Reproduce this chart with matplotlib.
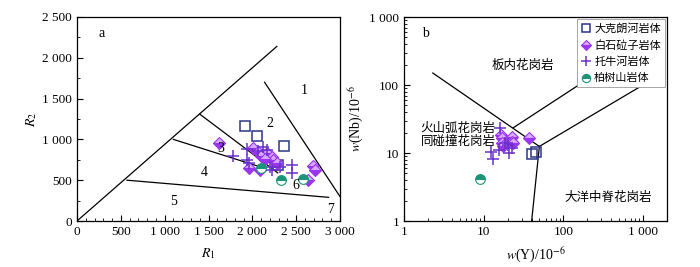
import matplotlib.pyplot as plt
import numpy as np
from matplotlib.ticker import FixedLocator, MultipleLocator, LogLocator, NullFormatter

plt.rcParams["font.family"] = ["Liberation Serif", "Noto Sans CJK SC"]
plt.rcParams["mathtext.fontset"] = "stix"

# ---- panel a: R1-R2 data ----
sq_r1 = [1920, 2053, 2365, 2296]
sq_r2 = [1168, 1042, 919, 686]
di_r1 = [1620, 1962, 2087, 2011, 2068, 2164, 2221, 2240, 2278, 2695, 2715, 2638, 2100, 2150]
di_r2 = [960, 653, 625, 891, 850, 830, 788, 747, 707, 678, 625, 502, 800, 760]
cr_r1 = [1783, 1936, 1943, 1966, 2125, 2163, 2201, 2221, 2449, 2449, 2315, 2060]
cr_r2 = [800, 879, 747, 715, 911, 870, 665, 625, 686, 592, 665, 860]
hc_r1 = [2095, 2323, 2574]
hc_r2 = [646, 502, 515]

# field boundaries (R1, R2)
bounds_a = [
    ([0, 2280], [0, 2140]),
    ([2140, 3000], [1700, 300]),
    ([1400, 2290], [1310, 590]),
    ([1100, 2100], [1000, 660]),
    ([570, 2870], [500, 290]),
]
field_labels_a = ["1", "2", "3", "4", "5", "6", "7"]
field_pos_a = [(2589, 1597), (2201, 1189), (1643, 891), (1449, 592), (1098, 237), (2498, 441), (2897, 143)]

# ---- panel b: Y-Nb data ----
sq_y = [40, 46]
sq_nb = [9.7, 10.3]
di_y = [16.3, 16.8, 17.2, 17.6, 22.4, 22.9, 23.5, 37]
di_nb = [18.4, 16.4, 14.2, 12.6, 17.4, 14.7, 13.9, 16.4]
cr_y = [16, 12.4, 13.2, 15.4, 18.5, 21, 22.4, 20]
cr_nb = [23, 10.4, 8.1, 11, 13.9, 9.9, 11.7, 13]
hc_y = [9.0]
hc_nb = [4.1]

bounds_b = [
    ([2.3, 50], [150, 12.5]),
    ([23.5, 150], [23.5, 97]),
    ([50, 1000], [12.5, 100]),
    ([50, 40], [12.5, 1]),
]

names = ["大克朗河岩体", "白石砬子岩体", "托牛河岩体", "柏树山岩体"]
sq_c = "#2b3585"
di_c = "#9a35f0"
di_alt = "#d8aaff"
cr_c = "#6b30c8"
hc_c = "#1a9578"


def fmt_thousands(v):
    s = f"{int(round(v)):d}"
    if len(s) > 3:
        s = s[:-3] + " " + s[-3:]
    return s


def draw_points(ax, xs):
    sx, sy, dx, dy, cx, cy, hx, hy = xs
    ax.plot(sx, sy, "s", ls="none", ms=7, mfc="none", mec=sq_c, mew=1.1, label=names[0])
    ax.plot(dx, dy, "D", ls="none", ms=6, fillstyle="bottom", mfc=di_c, mfcalt=di_alt,
            mec=di_c, mew=0.8, label=names[1])
    ax.plot(cx, cy, "+", ls="none", ms=8, mec=cr_c, mew=1.1, label=names[2])
    ax.plot(hx, hy, "o", ls="none", ms=7, fillstyle="top", mfc=hc_c, mfcalt="white",
            mec=hc_c, mew=0.8, label=names[3])


fig = plt.figure(figsize=(7.0, 2.67), dpi=100)
ax1 = fig.add_axes([77 / 700, 46 / 267, 263 / 700, 204 / 267])
ax2 = fig.add_axes([404 / 700, 46 / 267, 263 / 700, 204 / 267])

# panel a
for bx, by in bounds_a:
    ax1.plot(bx, by, color="black", lw=0.9)
for t, (x, y) in zip(field_labels_a, field_pos_a):
    ax1.text(x, y, t, fontsize=10, ha="center", va="center")
ax1.text(281, 2300, "a", fontsize=10, ha="center", va="center")
draw_points(ax1, (sq_r1, sq_r2, di_r1, di_r2, cr_r1, cr_r2, hc_r1, hc_r2))
ax1.set_xlim(0, 3000)
ax1.set_ylim(0, 2500)
ax1.xaxis.set_major_locator(MultipleLocator(500))
ax1.xaxis.set_minor_locator(MultipleLocator(100))
ax1.yaxis.set_major_locator(MultipleLocator(500))
ax1.yaxis.set_minor_locator(MultipleLocator(250))
ax1.set_xticklabels([fmt_thousands(v) for v in ax1.get_xticks()])
ax1.set_yticklabels([fmt_thousands(v) for v in ax1.get_yticks()])
ax1.set_xlabel("$R_1$", fontsize=10, labelpad=6)
ax1.set_ylabel("$R_2$", fontsize=10, labelpad=2)

# panel b
for bx, by in bounds_b:
    ax2.plot(bx, by, color="black", lw=0.9)
ax2.set_xscale("log")
ax2.set_yscale("log")
draw_points(ax2, (sq_y, sq_nb, di_y, di_nb, cr_y, cr_nb, hc_y, hc_nb))
ax2.set_xlim(1, 2000)
ax2.set_ylim(1, 1000)
ax2.xaxis.set_major_locator(FixedLocator([1, 10, 100, 1000]))
ax2.yaxis.set_major_locator(FixedLocator([1, 10, 100, 1000]))
ax2.xaxis.set_minor_locator(LogLocator(base=10, subs=np.arange(2, 10)))
ax2.yaxis.set_minor_locator(LogLocator(base=10, subs=np.arange(2, 10)))
ax2.xaxis.set_minor_formatter(NullFormatter())
ax2.yaxis.set_minor_formatter(NullFormatter())
ax2.set_xticklabels(["1", "10", "100", "1 000"])
ax2.set_yticklabels(["1", "10", "100", "1 000"])
ax2.text(1.84, 575, "b", fontsize=10, ha="center", va="center")
ax2.text(30.8, 197, "板内花岗岩", fontsize=9, ha="center", va="center", family="Noto Sans CJK SC")
ax2.text(4.8, 23, "火山弧花岗岩", fontsize=9, ha="center", va="center", family="Noto Sans CJK SC")
ax2.text(4.8, 14.7, "同碰撞花岗岩", fontsize=9, ha="center", va="center", family="Noto Sans CJK SC")
ax2.text(366, 2.23, "大洋中脊花岗岩", fontsize=9, ha="center", va="center", family="Noto Sans CJK SC")
ax2.set_xlabel("$w$(Y)/10$^{-6}$", fontsize=10, labelpad=6)
ax2.set_ylabel("$w$(Nb)/10$^{-6}$", fontsize=10, labelpad=2)
leg = ax2.legend(loc="upper right", prop={"family": "Noto Sans CJK SC", "size": 8},
                 handletextpad=0.2, handlelength=1.0, borderpad=0.35, labelspacing=0.55,
                 markerscale=0.85, fancybox=False, framealpha=1, edgecolor="#999999",
                 borderaxespad=0.2)
leg.get_frame().set_linewidth(0.6)

for ax in (ax1, ax2):
    ax.tick_params(which="both", direction="in", top=False, right=False, labelsize=9.5)
    ax.tick_params(which="major", length=4)
    ax.tick_params(which="minor", length=2.5)
    for s in ax.spines.values():
        s.set_linewidth(0.9)

fig.savefig("out.png", dpi=100)
